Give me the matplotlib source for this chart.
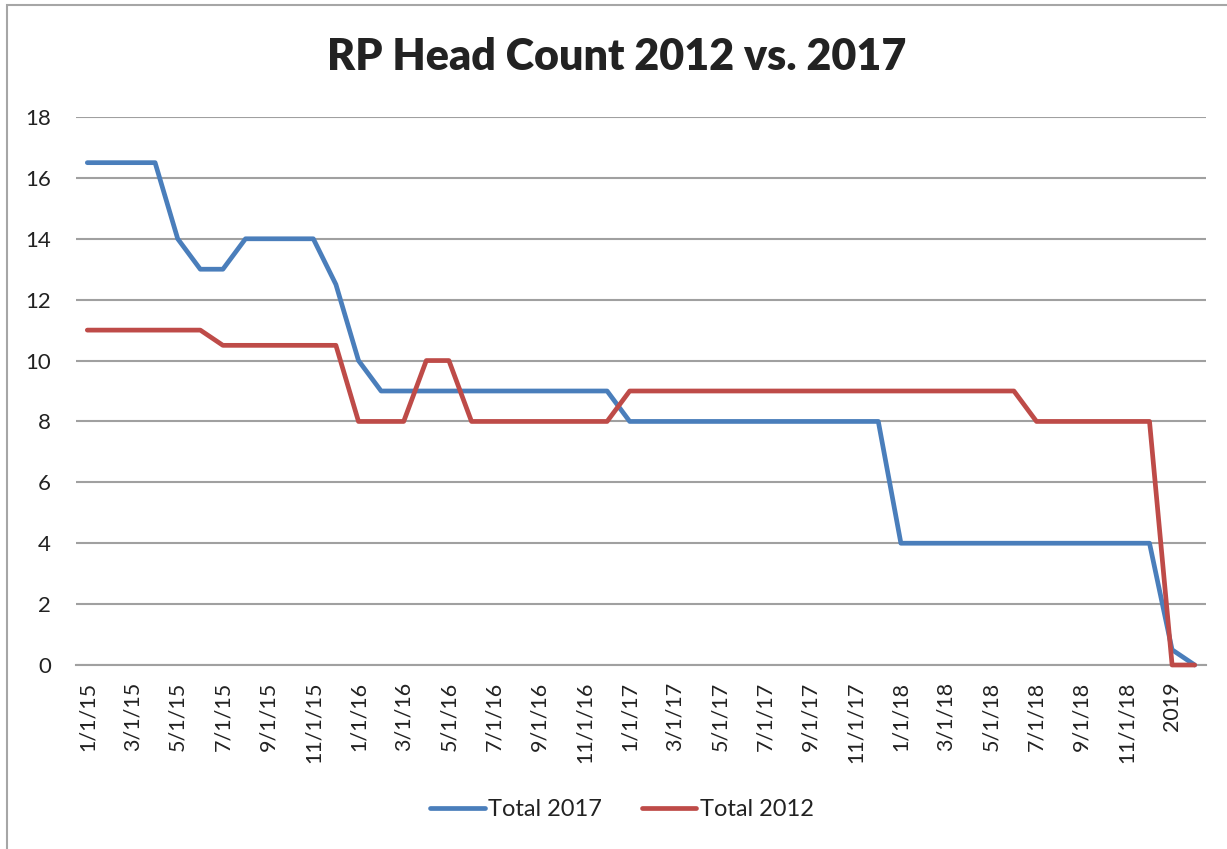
import matplotlib.pyplot as plt
from matplotlib.patches import Rectangle

# categories (monthly), only every other one gets a label on the axis
categories = [f"{m}/1/{y}" for y in (15, 16, 17, 18) for m in range(1, 13)] + ["2019", "2019"]

total_2017 = [16.5, 16.5, 16.5, 16.5, 14, 13, 13, 14, 14, 14,
              14, 12.5, 10, 9, 9, 9, 9, 9, 9, 9,
              9, 9, 9, 9, 8, 8, 8, 8, 8, 8,
              8, 8, 8, 8, 8, 8, 4, 4, 4, 4,
              4, 4, 4, 4, 4, 4, 4, 4, 0.5, 0]
total_2012 = [11, 11, 11, 11, 11, 11, 10.5, 10.5, 10.5, 10.5,
              10.5, 10.5, 8, 8, 8, 10, 10, 8, 8, 8,
              8, 8, 8, 8, 9, 9, 9, 9, 9, 9,
              9, 9, 9, 9, 9, 9, 9, 9, 9, 9,
              9, 9, 8, 8, 8, 8, 8, 8, 0, 0]

plt.rcParams['font.family'] = ['Lato', 'DejaVu Sans']

fig = plt.figure(figsize=(12.27, 8.49), dpi=100)
ax = fig.add_axes([76 / 1227, 1 - 665 / 849, (1206 - 76) / 1227, (665 - 117) / 849])

x = list(range(len(categories)))
ax.plot(x, total_2017, color="#4a7ebb", lw=3.4, label="Total 2017", clip_on=False, zorder=3,
        solid_joinstyle="round", solid_capstyle="round")
ax.plot(x, total_2012, color="#be4b48", lw=3.4, label="Total 2012", clip_on=False, zorder=4,
        solid_joinstyle="round", solid_capstyle="round")

ax.set_xlim(-0.5, len(categories) - 0.5)
ax.set_ylim(0, 18)
ax.set_yticks(range(0, 19, 2))
ax.set_xticks(x[::2])
ax.set_xticklabels(categories[::2], rotation=90, fontsize=15.5, color="#222222")
ax.tick_params(axis="y", labelsize=16, labelcolor="#222222", length=0, pad=18)
ax.tick_params(axis="x", length=0, pad=12)
ax.grid(axis="y", color="#a0a0a0", lw=1.5)
ax.set_axisbelow(True)
for s in ["top", "right", "left"]:
    ax.spines[s].set_visible(False)
ax.spines["bottom"].set_color("#a0a0a0")
ax.spines["bottom"].set_linewidth(1.5)
ax.spines["bottom"].set_zorder(1)

fig.text(0.503, 1 - 57 / 849, "RP Head Count 2012 vs. 2017", ha="center", va="center",
         fontsize=31, fontweight="heavy", color="#222222")

leg = fig.legend(loc="center", bbox_to_anchor=(0.507, 1 - 810 / 849), ncol=2, frameon=False,
                 fontsize=17, handlelength=2.3, handletextpad=0.15, columnspacing=1.7)
for t in leg.get_texts():
    t.set_color("#222222")

# chart border
fig.patches.append(Rectangle((7 / 1227, -0.05), 1.1, 1.05 - 5 / 849, transform=fig.transFigure,
                             fill=False, edgecolor="#a6a6a6", lw=1.5))

fig.savefig("out.png", dpi=100)
